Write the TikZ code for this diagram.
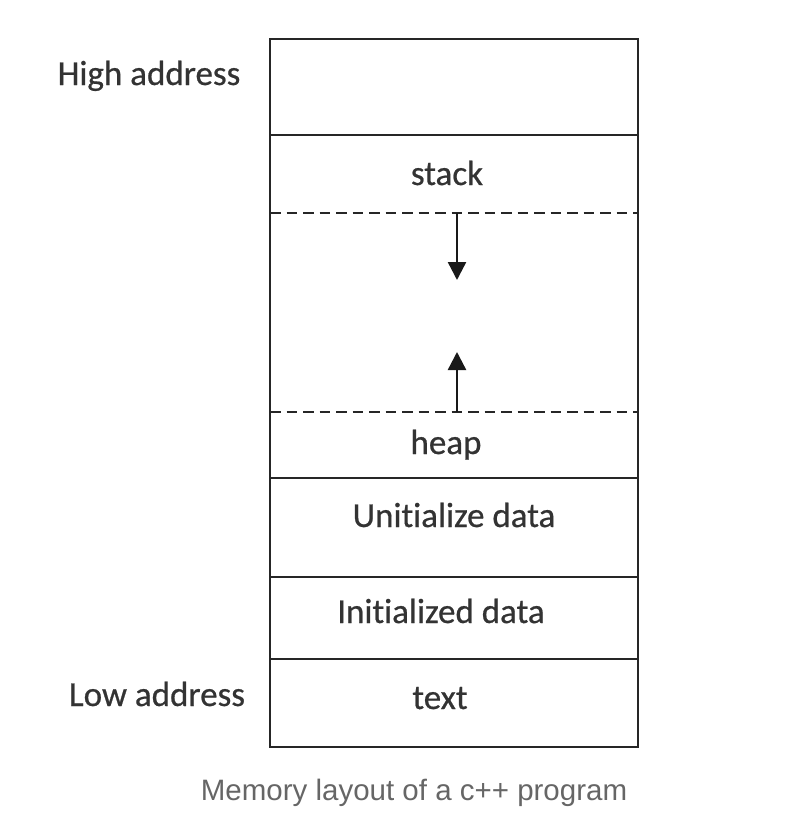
\documentclass[tikz,border=0pt]{standalone}
\usepackage{fontspec}
\setmainfont[Ligatures=NoCommon]{Carlito}
\newfontfamily\labelfont[Ligatures=NoCommon,FakeBold=0.6]{Carlito}
\newfontfamily\capfont{Liberation Sans}
\usetikzlibrary{arrows.meta}
\begin{document}
\begin{tikzpicture}[x=1pt,y=-1pt,
  wall/.style={draw=black!85, line width=2.6pt},
  divider/.style={draw=black!85, line width=2.6pt},
  gapline/.style={draw=black!85, line width=2.6pt, dash pattern=on 10.5pt off 6pt},
  growth/.style={draw=black!90, line width=2.4pt, -{Triangle[width=18pt,length=18pt]}},
  seglabel/.style={font=\labelfont\fontsize{35}{40}\selectfont, text=black!80, inner sep=0pt, anchor=base},
  sidelabel/.style={font=\labelfont\fontsize{35}{40}\selectfont, text=black!80, inner sep=0pt, anchor=base},
  caption/.style={font=\capfont\fontsize{29.5}{34}\selectfont, text=black!60, inner sep=0pt, anchor=base}]
\useasboundingbox (0,0) rectangle (802,836);

% outer column of the memory map
\coordinate (tl) at (270,39);
\coordinate (br) at (638,747);
\draw[wall] (tl) rectangle (br);

% segment boundaries
\draw[divider] (270,135) -- (638,135);
\draw[gapline] (270,213) -- (638,213);
\draw[gapline] (270,412) -- (638,412);
\draw[divider] (270,478) -- (638,478);
\draw[divider] (270,577) -- (638,577);
\draw[divider] (270,659) -- (638,659);

% growth directions of stack and heap
\coordinate (stacktop) at (457,213);
\coordinate (stacktip) at (457,280);
\coordinate (heaptop) at (457,412);
\coordinate (heaptip) at (457,352);
\draw[growth] (stacktop) -- (stacktip);
\draw[growth] (heaptop) -- (heaptip);

% segment names
\node[seglabel] (stack) at (447,185) {stack};
\node[seglabel] (heap) at (446,454) {heap};
\node[seglabel] (bss) at (454,527) {Unitialize data};
\node[seglabel] (data) at (441,623) {Initialized data};
\node[seglabel] (text) at (440,709) {text};

% address ends
\node[sidelabel] (high) at (149,85) {High address};
\node[sidelabel] (low) at (157,706) {Low address};

\node[caption] (cap) at (414,800) {Memory layout of a c++ program};
\end{tikzpicture}
\end{document}
